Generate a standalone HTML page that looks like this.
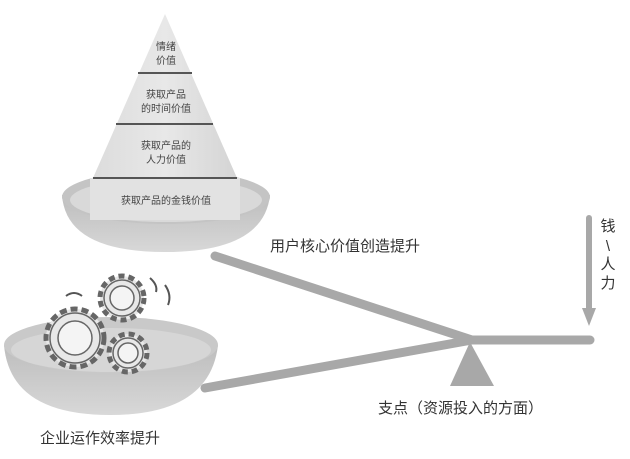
<!DOCTYPE html>
<html><head><meta charset="utf-8"><style>
body{margin:0;background:#fff;}
svg{display:block;font-family:"Liberation Sans","Noto Sans CJK SC",sans-serif;}
</style></head><body>
<svg width="630" height="459" viewBox="0 0 630 459">
<defs>
<linearGradient id="bowl" x1="0" y1="0" x2="0" y2="1"><stop offset="0" stop-color="#bdbdbd"/><stop offset="1" stop-color="#d8d8d8"/></linearGradient>
<linearGradient id="pyr" x1="0" y1="0" x2="1" y2="0"><stop offset="0" stop-color="#dcdcdc"/><stop offset="0.5" stop-color="#e8e8e8"/><stop offset="1" stop-color="#d4d4d4"/></linearGradient>
</defs>
<g stroke="#a8a8a8" stroke-width="9" stroke-linecap="round" fill="none">
<line x1="215" y1="256" x2="472" y2="340"/>
<line x1="205" y1="388" x2="472" y2="340"/>
<line x1="472" y1="340" x2="590" y2="340"/>
</g>
<polygon points="470,342 450,386 494,386" fill="#a8a8a8"/>
<path d="M62,195 Q66,252 165,252 Q264,252 270,195 Z" fill="url(#bowl)"/>
<ellipse cx="166" cy="197" rx="104" ry="27" fill="#c4c4c4"/>
<ellipse cx="166" cy="200" rx="96" ry="22" fill="#d9d9d9"/>
<polygon points="165,14 93,178 237,178" fill="url(#pyr)"/>
<rect x="90" y="178" width="150" height="42" fill="#e2e2e2"/>
<g stroke="#555" stroke-width="2">
<line x1="138" y1="73" x2="192" y2="73"/>
<line x1="116" y1="124" x2="213" y2="124"/>
<line x1="93" y1="178" x2="237" y2="178"/>
</g>
<g font-size="10" fill="#444" text-anchor="middle">
<text x="166" y="50">情绪</text><text x="166" y="64">价值</text>
<text x="166" y="98">获取产品</text><text x="166" y="112">的时间价值</text>
<text x="166" y="149">获取产品的</text><text x="166" y="163">人力价值</text>
<text x="166" y="204">获取产品的金钱价值</text>
</g>
<path d="M4,345 Q10,415 110,415 Q210,415 218,345 Z" fill="url(#bowl)"/>
<ellipse cx="111" cy="345" rx="107" ry="28" fill="#c9c9c9"/>
<ellipse cx="111" cy="350" rx="100" ry="22" fill="#d6d6d6"/>
<g fill="#e8e8e8" stroke="#666" stroke-width="1.5">
<circle cx="75" cy="338" r="29" stroke-dasharray="7 4" stroke-width="5"/>
<circle cx="75" cy="338" r="25"/><circle cx="75" cy="338" r="17" fill="#f4f4f4"/>
<circle cx="122" cy="298" r="22" stroke-dasharray="6 4" stroke-width="5"/>
<circle cx="122" cy="298" r="18"/><circle cx="122" cy="298" r="12" fill="#f4f4f4"/>
<circle cx="128" cy="353" r="19" stroke-dasharray="6 4" stroke-width="5"/>
<circle cx="128" cy="353" r="15"/><circle cx="128" cy="353" r="10" fill="#f4f4f4"/>
</g>
<g stroke="#555" stroke-width="2" fill="none">
<path d="M66,296 Q74,290 82,296"/><path d="M150,278 Q158,285 156,292"/><path d="M165,285 Q172,295 168,305"/>
</g>
<line x1="589" y1="218" x2="589" y2="312" stroke="#a8a8a8" stroke-width="6" stroke-linecap="round"/>
<polygon points="582,308 596,308 589,326" fill="#a8a8a8"/>
<g font-size="15" fill="#333" text-anchor="middle">
<text x="608" y="231">钱</text>
<text x="608" y="251">\</text>
<text x="608" y="269">人</text>
<text x="608" y="288">力</text>
</g>
<g font-size="15" fill="#333">
<text x="270" y="251">用户核心价值创造提升</text>
<text x="378" y="413">支点（资源投入的方面）</text>
<text x="40" y="443">企业运作效率提升</text>
</g>
</svg>
</body></html>
